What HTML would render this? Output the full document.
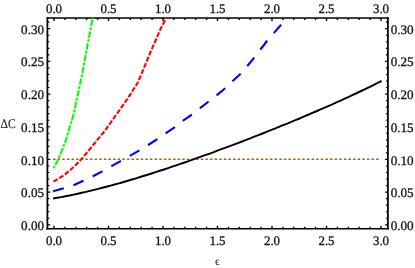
<!DOCTYPE html>
<html><head><meta charset="utf-8"><title>plot</title>
<style>
html,body{margin:0;padding:0;background:#fff;}
body{width:415px;height:268px;overflow:hidden;font-family:"Liberation Serif",serif;}
svg{display:block;}
text{font-family:"Liberation Serif",serif;fill:#111;text-rendering:geometricPrecision;stroke:#111;stroke-width:0.3px;}
svg{will-change:transform;}
</style></head><body>
<svg width="415" height="268" viewBox="0 0 415 268">
<rect x="0" y="0" width="415" height="268" fill="#fff"/>
<defs><clipPath id="cp"><rect x="47.40" y="17.30" width="340.50" height="211.40"/></clipPath></defs>

<path d="M46.52 18.10 H388.77 M46.52 228.70 H388.77" stroke="#000" stroke-width="1.50" fill="none"/>
<path d="M47.40 17.35 V229.45 M387.90 17.35 V229.45" stroke="#000" stroke-width="1.75" fill="none"/>
<path d="M54.00 228.70 v-2.85 M54.00 18.10 v2.85 M64.90 228.70 v-2.00 M64.90 18.10 v2.00 M75.80 228.70 v-2.00 M75.80 18.10 v2.00 M86.70 228.70 v-2.00 M86.70 18.10 v2.00 M97.60 228.70 v-2.00 M97.60 18.10 v2.00 M108.50 228.70 v-2.85 M108.50 18.10 v2.85 M119.40 228.70 v-2.00 M119.40 18.10 v2.00 M130.30 228.70 v-2.00 M130.30 18.10 v2.00 M141.20 228.70 v-2.00 M141.20 18.10 v2.00 M152.10 228.70 v-2.00 M152.10 18.10 v2.00 M163.00 228.70 v-2.85 M163.00 18.10 v2.85 M173.90 228.70 v-2.00 M173.90 18.10 v2.00 M184.80 228.70 v-2.00 M184.80 18.10 v2.00 M195.70 228.70 v-2.00 M195.70 18.10 v2.00 M206.60 228.70 v-2.00 M206.60 18.10 v2.00 M217.50 228.70 v-2.85 M217.50 18.10 v2.85 M228.40 228.70 v-2.00 M228.40 18.10 v2.00 M239.30 228.70 v-2.00 M239.30 18.10 v2.00 M250.20 228.70 v-2.00 M250.20 18.10 v2.00 M261.10 228.70 v-2.00 M261.10 18.10 v2.00 M272.00 228.70 v-2.85 M272.00 18.10 v2.85 M282.90 228.70 v-2.00 M282.90 18.10 v2.00 M293.80 228.70 v-2.00 M293.80 18.10 v2.00 M304.70 228.70 v-2.00 M304.70 18.10 v2.00 M315.60 228.70 v-2.00 M315.60 18.10 v2.00 M326.50 228.70 v-2.85 M326.50 18.10 v2.85 M337.40 228.70 v-2.00 M337.40 18.10 v2.00 M348.30 228.70 v-2.00 M348.30 18.10 v2.00 M359.20 228.70 v-2.00 M359.20 18.10 v2.00 M370.10 228.70 v-2.00 M370.10 18.10 v2.00 M381.00 228.70 v-2.85 M381.00 18.10 v2.85" stroke="#000" stroke-width="1.4" fill="none"/>
<path d="M47.40 224.80 h2.85 M387.90 224.80 h-2.85 M47.40 218.26 h2.00 M387.90 218.26 h-2.00 M47.40 211.73 h2.00 M387.90 211.73 h-2.00 M47.40 205.19 h2.00 M387.90 205.19 h-2.00 M47.40 198.65 h2.00 M387.90 198.65 h-2.00 M47.40 192.12 h2.85 M387.90 192.12 h-2.85 M47.40 185.58 h2.00 M387.90 185.58 h-2.00 M47.40 179.04 h2.00 M387.90 179.04 h-2.00 M47.40 172.50 h2.00 M387.90 172.50 h-2.00 M47.40 165.97 h2.00 M387.90 165.97 h-2.00 M47.40 159.43 h2.85 M387.90 159.43 h-2.85 M47.40 152.89 h2.00 M387.90 152.89 h-2.00 M47.40 146.36 h2.00 M387.90 146.36 h-2.00 M47.40 139.82 h2.00 M387.90 139.82 h-2.00 M47.40 133.28 h2.00 M387.90 133.28 h-2.00 M47.40 126.75 h2.85 M387.90 126.75 h-2.85 M47.40 120.21 h2.00 M387.90 120.21 h-2.00 M47.40 113.67 h2.00 M387.90 113.67 h-2.00 M47.40 107.13 h2.00 M387.90 107.13 h-2.00 M47.40 100.60 h2.00 M387.90 100.60 h-2.00 M47.40 94.06 h2.85 M387.90 94.06 h-2.85 M47.40 87.52 h2.00 M387.90 87.52 h-2.00 M47.40 80.99 h2.00 M387.90 80.99 h-2.00 M47.40 74.45 h2.00 M387.90 74.45 h-2.00 M47.40 67.91 h2.00 M387.90 67.91 h-2.00 M47.40 61.38 h2.85 M387.90 61.38 h-2.85 M47.40 54.84 h2.00 M387.90 54.84 h-2.00 M47.40 48.30 h2.00 M387.90 48.30 h-2.00 M47.40 41.76 h2.00 M387.90 41.76 h-2.00 M47.40 35.23 h2.00 M387.90 35.23 h-2.00 M47.40 28.69 h2.85 M387.90 28.69 h-2.85 M47.40 22.15 h2.00 M387.90 22.15 h-2.00" stroke="#000" stroke-width="1.15" fill="none"/>
<line x1="53.05" y1="159.2" x2="380.5" y2="159.2" stroke="#a3601f" stroke-width="1.6" stroke-dasharray="2.5 2.116" fill="none"/>
<g clip-path="url(#cp)">
<polyline points="53.1,198.5 57.2,197.8 61.3,197.1 65.4,196.3 69.5,195.5 73.6,194.6 77.7,193.7 81.8,192.8 85.9,191.9 90.0,190.9 94.1,189.9 98.2,188.9 102.3,187.8 106.4,186.7 110.6,185.6 114.7,184.5 118.8,183.4 122.9,182.2 127.0,181.0 131.1,179.8 135.2,178.6 139.3,177.3 143.4,176.0 147.5,174.8 151.6,173.5 155.7,172.1 159.8,170.8 163.9,169.5 168.1,168.1 172.2,166.7 176.3,165.3 180.4,163.9 184.5,162.5 188.6,161.1 192.7,159.6 196.8,158.2 200.9,156.7 205.0,155.2 209.1,153.8 213.2,152.3 217.3,150.7 221.4,149.2 225.6,147.7 229.7,146.2 233.8,144.6 237.9,143.1 242.0,141.5 246.1,139.9 250.2,138.3 254.3,136.7 258.4,135.1 262.5,133.5 266.6,131.9 270.7,130.2 274.8,128.6 278.9,126.9 283.1,125.2 287.2,123.6 291.3,121.9 295.4,120.2 299.5,118.5 303.6,116.7 307.7,115.0 311.8,113.2 315.9,111.5 320.0,109.7 324.1,107.9 328.2,106.1 332.3,104.3 336.4,102.4 340.6,100.6 344.7,98.7 348.8,96.8 352.9,94.9 357.0,93.0 361.1,91.0 365.2,89.1 369.3,87.1 373.4,85.1 377.5,83.0 381.6,81.0" stroke="#000" stroke-width="1.95" fill="none" stroke-linejoin="round"/>
<polyline points="53.1,191.3 63.7,188.3 73.5,185.3 82.8,181.0 92.9,176.2 102.3,171.4 112.0,165.9 122.6,160.0 129.3,156.2 139.4,150.4 148.2,145.0 157.3,139.1 165.6,133.3 175.0,127.1 183.1,120.7 192.2,114.3 200.1,108.2 208.8,101.4 216.6,95.3 225.3,88.2 232.3,81.4 240.9,73.6 247.5,65.8 254.6,57.3 260.8,49.0 267.6,40.2 274.0,32.9 281.6,24.3 288.0,17.5 290.0,15.0" stroke="#0000ff" stroke-width="2.1" fill="none" stroke-dasharray="11.1 10.1" stroke-linejoin="round"/>
<polyline points="53.5,181.6 59.2,178.2 64.3,175.0 69.3,170.8 74.9,165.9 81.1,159.5 88.8,150.4 96.6,140.7 103.6,132.4 119.0,110.9 127.0,99.5 136.4,84.9 138.4,81.4 142.3,72.0 147.3,60.0 150.5,52.0 154.2,43.7 160.5,29.0 166.3,17.9 167.6,15.4" stroke="#ff0000" stroke-width="2.1" fill="none" stroke-dasharray="4.9 1.8" stroke-linejoin="round"/>
<polyline points="53.7,168.0 58.2,159.5 62.0,150.4 65.9,140.1 68.8,130.1 72.9,116.9 74.9,109.0 75.8,103.3 78.7,90.7 80.7,81.0 81.9,75.4 87.5,45.1 92.7,17.8 93.2,15.2" stroke="#00ff00" stroke-width="2.1" fill="none" stroke-dasharray="6.3 1.5 2.7 1.5" stroke-dashoffset="8.4" stroke-linejoin="round"/>
</g>
<text x="54.00" y="244.5" font-size="13.0" text-anchor="middle" textLength="16.1" lengthAdjust="spacingAndGlyphs">0.0</text>
<text x="54.00" y="12.8" font-size="13.0" text-anchor="middle" textLength="16.1" lengthAdjust="spacingAndGlyphs">0.0</text>
<text x="108.50" y="244.5" font-size="13.0" text-anchor="middle" textLength="16.1" lengthAdjust="spacingAndGlyphs">0.5</text>
<text x="108.50" y="12.8" font-size="13.0" text-anchor="middle" textLength="16.1" lengthAdjust="spacingAndGlyphs">0.5</text>
<text x="163.00" y="244.5" font-size="13.0" text-anchor="middle" textLength="16.1" lengthAdjust="spacingAndGlyphs">1.0</text>
<text x="163.00" y="12.8" font-size="13.0" text-anchor="middle" textLength="16.1" lengthAdjust="spacingAndGlyphs">1.0</text>
<text x="217.50" y="244.5" font-size="13.0" text-anchor="middle" textLength="16.1" lengthAdjust="spacingAndGlyphs">1.5</text>
<text x="217.50" y="12.8" font-size="13.0" text-anchor="middle" textLength="16.1" lengthAdjust="spacingAndGlyphs">1.5</text>
<text x="272.00" y="244.5" font-size="13.0" text-anchor="middle" textLength="16.1" lengthAdjust="spacingAndGlyphs">2.0</text>
<text x="272.00" y="12.8" font-size="13.0" text-anchor="middle" textLength="16.1" lengthAdjust="spacingAndGlyphs">2.0</text>
<text x="326.50" y="244.5" font-size="13.0" text-anchor="middle" textLength="16.1" lengthAdjust="spacingAndGlyphs">2.5</text>
<text x="326.50" y="12.8" font-size="13.0" text-anchor="middle" textLength="16.1" lengthAdjust="spacingAndGlyphs">2.5</text>
<text x="381.00" y="244.5" font-size="13.0" text-anchor="middle" textLength="16.1" lengthAdjust="spacingAndGlyphs">3.0</text>
<text x="381.00" y="12.8" font-size="13.0" text-anchor="middle" textLength="16.1" lengthAdjust="spacingAndGlyphs">3.0</text>
<text x="44.0" y="229.90" font-size="13.0" text-anchor="end" textLength="22.9" lengthAdjust="spacingAndGlyphs">0.00</text>
<text x="390.7" y="229.90" font-size="13.0" text-anchor="start" textLength="23.0" lengthAdjust="spacingAndGlyphs">0.00</text>
<text x="44.0" y="197.22" font-size="13.0" text-anchor="end" textLength="22.9" lengthAdjust="spacingAndGlyphs">0.05</text>
<text x="390.7" y="197.22" font-size="13.0" text-anchor="start" textLength="23.0" lengthAdjust="spacingAndGlyphs">0.05</text>
<text x="44.0" y="164.53" font-size="13.0" text-anchor="end" textLength="22.9" lengthAdjust="spacingAndGlyphs">0.10</text>
<text x="390.7" y="164.53" font-size="13.0" text-anchor="start" textLength="23.0" lengthAdjust="spacingAndGlyphs">0.10</text>
<text x="44.0" y="131.84" font-size="13.0" text-anchor="end" textLength="22.9" lengthAdjust="spacingAndGlyphs">0.15</text>
<text x="390.7" y="131.84" font-size="13.0" text-anchor="start" textLength="23.0" lengthAdjust="spacingAndGlyphs">0.15</text>
<text x="44.0" y="99.16" font-size="13.0" text-anchor="end" textLength="22.9" lengthAdjust="spacingAndGlyphs">0.20</text>
<text x="390.7" y="99.16" font-size="13.0" text-anchor="start" textLength="23.0" lengthAdjust="spacingAndGlyphs">0.20</text>
<text x="44.0" y="66.47" font-size="13.0" text-anchor="end" textLength="22.9" lengthAdjust="spacingAndGlyphs">0.25</text>
<text x="390.7" y="66.47" font-size="13.0" text-anchor="start" textLength="23.0" lengthAdjust="spacingAndGlyphs">0.25</text>
<text x="44.0" y="33.79" font-size="13.0" text-anchor="end" textLength="22.9" lengthAdjust="spacingAndGlyphs">0.30</text>
<text x="390.7" y="33.79" font-size="13.0" text-anchor="start" textLength="23.0" lengthAdjust="spacingAndGlyphs">0.30</text>
<text x="0.6" y="128.4" font-size="13.2" style="stroke-width:0.1px" textLength="15.2" lengthAdjust="spacingAndGlyphs">&#916;C</text>
<text x="217.6" y="264.9" font-size="11.6" style="stroke-width:0;fill:#222" text-anchor="middle" textLength="5.0" lengthAdjust="spacingAndGlyphs">&#1013;</text>
</svg></body></html>
